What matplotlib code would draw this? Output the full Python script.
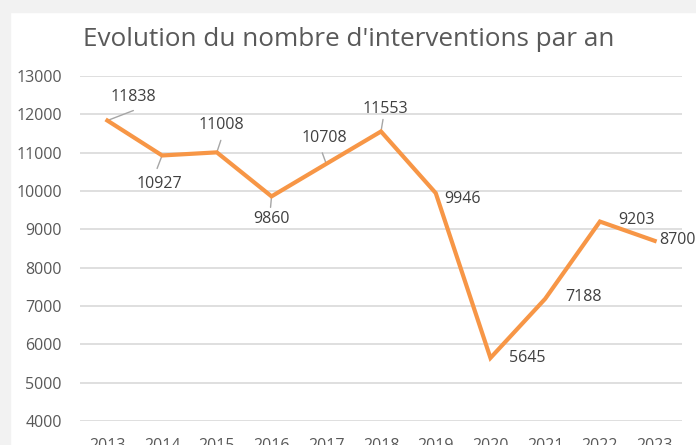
import matplotlib
matplotlib.use("Agg")
import matplotlib.pyplot as plt
from matplotlib.patches import Rectangle

# Données
annees = ["2013", "2014", "2015", "2016", "2017", "2018", "2019", "2020", "2021", "2022", "2023"]
interventions = [11838, 10927, 11008, 9860, 10708, 11553, 9946, 5645, 7188, 9203, 8700]
yticks = [4000, 5000, 6000, 7000, 8000, 9000, 10000, 11000, 12000, 13000]

# décalage des étiquettes (pixels)
label_off = [(26, 24), (-3, -29), (5, 27), (0, -23), (-2, 26), (4, 22),
             (27, -6), (37, 0), (38, 2), (37, 2), (5, 1)]
# bout du trait de rappel (pixels), None = pas de trait
leader_end = [(26, 10), (-5, -13), (4, 12), (-1, -11), (-4, 11), (2, 12),
              None, None, None, None, None]

plt.rcParams['font.family'] = ['Open Sans', 'DejaVu Sans']

fig = plt.figure(figsize=(6.96, 4.45), dpi=100)
fig.patches.append(Rectangle((0, 1 - 12 / 445), 1, 12 / 445, transform=fig.transFigure,
                             color='#f2f2f2', zorder=0))
fig.patches.append(Rectangle((0, 0), 10 / 696, 1, transform=fig.transFigure,
                             color='#f2f2f2', zorder=0))

ax = fig.add_axes([80 / 696, 24 / 445, 602 / 696, 345 / 445])
ax.set_facecolor('none')
x = list(range(len(annees)))
ax.plot(x, interventions, color='#F79646', lw=3, solid_joinstyle='miter', zorder=3)

for i, v in enumerate(interventions):
    ha = 'left' if i == len(annees) - 1 else 'center'
    ax.annotate(str(v), (i, v), xytext=label_off[i], textcoords='offset pixels',
                ha=ha, va='center', fontsize=11.5, color='#404040', zorder=4,
                annotation_clip=False)
    if leader_end[i] is not None:
        ax.annotate('', (i, v), xytext=leader_end[i], textcoords='offset pixels',
                    arrowprops=dict(arrowstyle='-', color='#a6a6a6', lw=1,
                                    shrinkA=0, shrinkB=0), zorder=2)

ax.set_xlim(-0.5, 10.5)
ax.set_ylim(4000, 13000)
ax.set_xticks(x)
ax.set_xticklabels(annees)
ax.set_yticks(yticks)
ax.grid(axis='y', color='#d9d9d9', lw=1.2)
ax.set_axisbelow(True)
for s in ax.spines.values():
    s.set_visible(False)
ax.tick_params(axis='both', length=0, labelsize=11.5, colors='#595959')
ax.tick_params(axis='y', pad=13)
ax.tick_params(axis='x', pad=12)

fig.text(349 / 696, 1 - 46 / 445, "Evolution du nombre d'interventions par an",
         ha='center', va='baseline', fontsize=18.8, color='#595959')

fig.savefig('out.png', dpi=100)
